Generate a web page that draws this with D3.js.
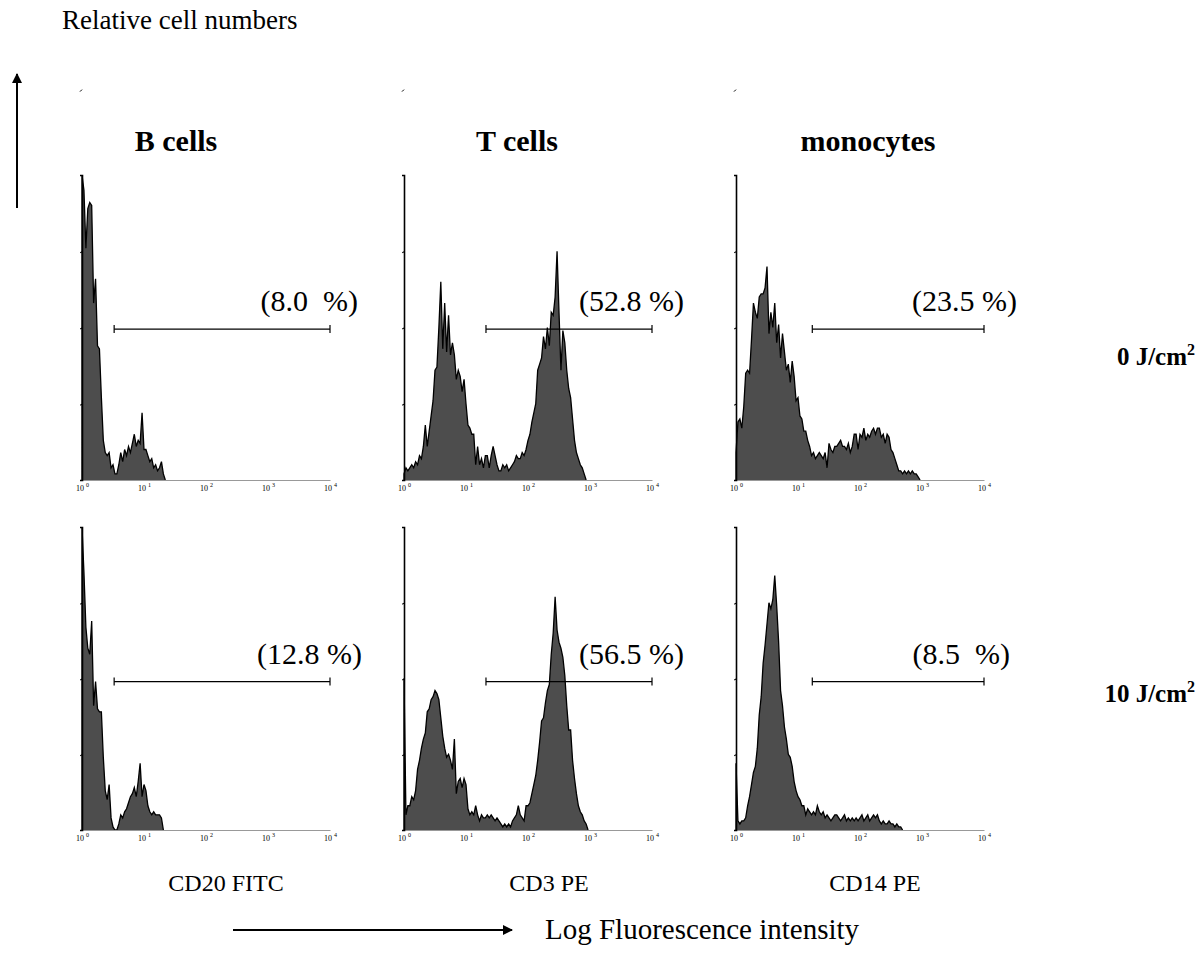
<!DOCTYPE html>
<html>
<head>
<meta charset="utf-8">
<script src="https://cdn.jsdelivr.net/npm/d3@7"></script>
<style>
  body { margin: 0; background: #fff; }
  svg { display: block; }
  text { font-family: "Liberation Serif", "Times New Roman", serif; fill: #000; }
</style>
</head>
<body>
<svg width="1200" height="974"></svg>
<script>
// histogram counts, one value per 1/32 decade channel starting at 10^0 (relative scale 0-100)
var bCells0 = [100,95,76,89,91,90,58,66,44,43,27,13,9,8,9,4,5,2,2,5,9,6,10,8,11,9,12,15,11,13,12,22,10,10,8,6,7,4,5,3,4,6,2,0];
var tCells0 = [2,4,3,4,5,4,6,5,8,7,11,18,11,16,21,26,36,37,50,65,43,58,42,54,41,45,41,33,36,34,29,33,25,18,17,15,15,5,11,5,7,4,8,8,4,8,11,8,5,3,3,5,4,5,3,4,5,6,8,7,7,9,8,10,13,15,19,22,25,36,38,40,47,43,50,44,55,54,60,75,55,36,49,45,36,30,27,20,13,9,7,5,4,2,0];
var mono0 = [9,19,20,17,24,35,36,35,46,58,55,53,60,61,61,63,70,48,55,50,58,45,51,40,48,42,36,38,32,39,34,26,27,21,20,16,16,13,11,8,9,7,8,9,8,7,9,4,12,10,9,11,11,12,13,11,11,10,12,9,11,15,15,10,15,14,17,13,15,14,16,17,15,17,17,14,15,12,15,14,10,9,7,5,3,3,2,3,2,3,2,3,2,2,1,0];
var bCells10 = [100,85,67,60,58,69,41,49,40,39,39,24,13,10,15,4,1,0,0,2,5,4,6,7,9,11,12,14,11,16,22,11,15,13,8,6,5,6,5,5,5,4,0];
var tCells10 = [50,5,8,8,11,10,13,20,23,27,30,32,39,40,43,44,46,45,43,37,31,27,24,25,23,20,30,12,16,17,14,17,15,7,5,6,5,8,5,3,5,4,4,5,4,5,4,3,4,3,2,1,2,1,2,1,3,4,5,8,5,4,3,8,8,9,12,15,18,23,29,36,37,42,46,48,58,65,77,66,62,60,57,51,41,33,33,23,17,12,8,6,5,3,2,0];
var mono10 = [22,3,2,3,3,4,8,11,15,19,21,27,38,44,55,61,68,75,73,76,84,74,62,46,41,34,30,25,24,21,16,13,11,10,8,8,5,7,6,5,6,5,8,6,5,6,4,5,4,3,4,5,5,4,3,4,5,3,4,3,4,3,4,3,4,5,3,4,5,3,4,5,4,5,3,2,3,2,2,3,2,2,1,2,1,1,0];

var cellTypes = ["B cells", "T cells", "monocytes"];
var markers = ["CD20 FITC", "CD3 PE", "CD14 PE"];
var doses = ["0 J/cm", "10 J/cm"];
var histograms = [[bCells0, tCells0, mono0], [bCells10, tCells10, mono10]];
var percents = [["(8.0  %)", "(52.8 %)", "(23.5 %)"], ["(12.8 %)", "(56.5 %)", "(8.5  %)"]];
var gateStart = [3.3, 21, 17];   // fluorescence where the marker gate begins
var gateEnd = 10000;
var gateLevel = [49.5, 49];      // relative height of the gate bar per row
var decades = [1, 10, 100, 1000, 10000];
var decadeExp = ["0", "1", "2", "3", "4"];
var yTicks = [25, 50, 75];
var channelsPerDecade = 32;

var svg = d3.select("svg");
svg.append("rect").attr("width", 1200).attr("height", 974).attr("fill", "#fff");

var panelX = [82, 404, 736],
    panelW = 248,
    rowTop = [175, 527],
    rowBottom = [480, 830];
var labelRight = [[358, 684, 1017], [362, 684, 1010]];

var chan = d3.scaleLinear().domain([0, channelsPerDecade]).range([0, 1]);

histograms.forEach(function(row, r) {
    row.forEach(function(counts, c) {
        var x = d3.scaleLog().domain([1, 10000]).range([panelX[c], panelX[c] + panelW]);
        var y = d3.scaleLinear().domain([0, 100]).range([rowBottom[r], rowTop[r]]);
        var g = svg.append("g");

        var pts = counts.map(function(v, i) { return { f: Math.pow(10, chan(i)), v: v }; });
        pts.unshift({ f: 1, v: 0 });
        pts.push({ f: pts[pts.length - 1].f, v: 0 });

        g.append("path")
            .datum(pts)
            .attr("fill", "#4d4d4d")
            .attr("d", d3.area().x(function(d) { return x(d.f); }).y0(y(0)).y1(function(d) { return y(d.v); }));

        g.append("path")
            .datum(pts)
            .attr("fill", "none")
            .attr("stroke", "#000")
            .attr("stroke-width", 1.3)
            .attr("d", d3.line().x(function(d) { return x(d.f); }).y(function(d) { return y(d.v); }));

        // x axis
        var xa = g.append("g")
            .attr("transform", "translate(0," + y(0) + ")")
            .call(d3.axisBottom(x).tickValues(decades).tickSize(0).tickPadding(4));
        xa.select(".domain").attr("stroke", "#999").attr("stroke-width", 1);
        xa.selectAll(".tick text")
            .attr("font-family", "'Liberation Serif', serif")
            .attr("font-size", 8)
            .attr("dy", "0.9em")
            .text("10 ")
            .append("tspan")
            .attr("font-size", 6)
            .attr("dy", -4)
            .text(function(d, i) { return decadeExp[i]; });

        // y axis
        var ya = g.append("g")
            .attr("transform", "translate(" + x(1) + ",0)")
            .call(d3.axisLeft(y).tickValues(yTicks).tickSize(2).tickFormat(""));
        ya.select(".domain").attr("stroke", "#000").attr("stroke-width", 1.6);
        ya.selectAll(".tick line").attr("stroke", "#000").attr("transform", "rotate(-30)");
        if (r === 0) {
            g.append("line")
                .attr("x1", x(1) - 2).attr("y1", y(128) + 2)
                .attr("x2", x(1)).attr("y2", y(128))
                .attr("stroke", "#000").attr("stroke-width", 1);
        }

        // marker gate
        var gy = y(gateLevel[r]);
        g.append("line")
            .attr("x1", x(gateStart[c])).attr("x2", x(gateEnd))
            .attr("y1", gy).attr("y2", gy)
            .attr("stroke", "#000").attr("stroke-width", 1.2);
        [gateStart[c], gateEnd].forEach(function(f) {
            g.append("line")
                .attr("x1", x(f)).attr("x2", x(f))
                .attr("y1", gy - 4).attr("y2", gy + 4)
                .attr("stroke", "#000").attr("stroke-width", 1.2);
        });
        g.append("text")
            .attr("x", labelRight[r][c])
            .attr("y", gy - 18)
            .attr("text-anchor", "end")
            .attr("font-size", 30)
            .style("white-space", "pre")
            .text(percents[r][c]);
    });
});

// column titles and marker labels
var titleCx = [176, 517, 868],
    markerCx = [226, 549, 875];
cellTypes.forEach(function(t, c) {
    svg.append("text")
        .attr("x", titleCx[c]).attr("y", 151)
        .attr("text-anchor", "middle")
        .attr("font-size", 30).attr("font-weight", "bold")
        .text(t);
    svg.append("text")
        .attr("x", markerCx[c]).attr("y", 891)
        .attr("text-anchor", "middle")
        .attr("font-size", 24)
        .text(markers[c]);
});

// dose labels
var doseY = [365, 702];
doses.forEach(function(d, r) {
    var t = svg.append("text")
        .attr("x", 1195).attr("y", doseY[r])
        .attr("text-anchor", "end")
        .attr("font-size", 25).attr("font-weight", "bold");
    t.append("tspan").text(d);
    t.append("tspan").attr("font-size", 16).attr("dy", -10).text("2");
});

// axis titles with arrows
svg.append("defs").append("marker")
    .attr("id", "arrow")
    .attr("viewBox", "0 0 10 10")
    .attr("refX", 9).attr("refY", 5)
    .attr("markerWidth", 5).attr("markerHeight", 5)
    .attr("orient", "auto")
    .append("path").attr("d", "M0,0L10,5L0,10Z").attr("fill", "#000");

svg.append("line")
    .attr("x1", 17).attr("y1", 208).attr("x2", 17).attr("y2", 74)
    .attr("stroke", "#000").attr("stroke-width", 2)
    .attr("marker-end", "url(#arrow)");
svg.append("text")
    .attr("x", 62).attr("y", 29)
    .attr("font-size", 27)
    .text("Relative cell numbers");

svg.append("line")
    .attr("x1", 233).attr("y1", 930).attr("x2", 512).attr("y2", 930)
    .attr("stroke", "#000").attr("stroke-width", 2)
    .attr("marker-end", "url(#arrow)");
svg.append("text")
    .attr("x", 545).attr("y", 939)
    .attr("font-size", 29)
    .text("Log Fluorescence intensity");
</script>
</body>
</html>
